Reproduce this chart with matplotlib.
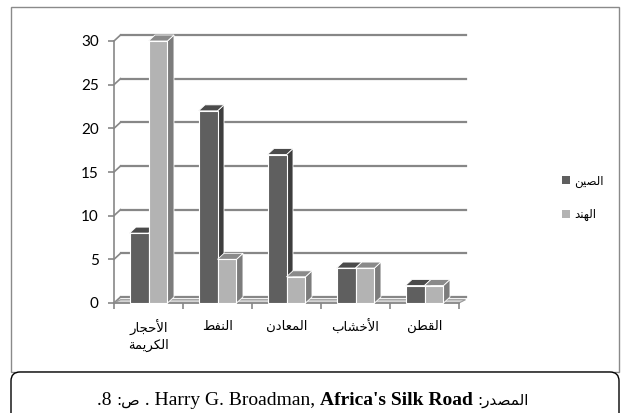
import unicodedata
import matplotlib
matplotlib.use('Agg')
import matplotlib.pyplot as plt
import numpy as np
from matplotlib.patches import Polygon, Rectangle, FancyBboxPatch, Patch
from matplotlib.transforms import IdentityTransform

# Data
categories = ["الأحجار\nالكريمة", "النفط", "المعادن", "الأخشاب", "القطن"]
china = [8, 22, 17, 4, 2]
india = [30, 5, 3, 4, 2]
series_names = ["الصين", "الهند"]
y_ticks = [0, 5, 10, 15, 20, 25, 30]


def _form(ch, form):
    try:
        return unicodedata.lookup(unicodedata.name(ch) + " " + form + " FORM")
    except (KeyError, ValueError):
        return None


def _is_arabic(tok):
    return tok is not None and "ARABIC" in tok[1]


def ar(text):
    # poor man's arabic shaping + right-to-left reversal (matplotlib has no bidi)
    out_lines = []
    for line in text.split("\n"):
        toks = []
        i = 0
        while i < len(line):
            ch = line[i]
            nxt = line[i + 1] if i + 1 < len(line) else ""
            if ch == "ل" and nxt in ("ا", "أ", "إ", "آ"):
                base = "ARABIC LIGATURE LAM WITH " + unicodedata.name(nxt).replace("ARABIC LETTER ", "")
                toks.append((ch + nxt, base, False))
                i += 2
                continue
            try:
                name = unicodedata.name(ch)
            except ValueError:
                name = ""
            if name.startswith("ARABIC LETTER"):
                dual = _form(ch, "INITIAL") is not None
                toks.append((ch, name, dual))
            else:
                toks.append((ch, "", False))
            i += 1
        shaped = []
        for k, (ch, name, dual) in enumerate(toks):
            if not name:
                shaped.append(ch)
                continue
            prev = toks[k - 1] if k > 0 else None
            nxt = toks[k + 1] if k + 1 < len(toks) else None
            jp = _is_arabic(prev) and prev[2]
            jn = dual and _is_arabic(nxt)
            form = "MEDIAL" if (jp and jn) else "FINAL" if jp else "INITIAL" if jn else "ISOLATED"
            try:
                g = unicodedata.lookup(name + " " + form + " FORM")
            except KeyError:
                g = ch
            shaped.append(g)
        out_lines.append("".join(shaped)[::-1])
    return "\n".join(out_lines)


W, H = 623, 413
fig = plt.figure(figsize=(W / 100, H / 100), dpi=100)

# front plot area in pixels: x 114..459, y 303 (0) .. 41 (30)
ax = fig.add_axes([114 / W, (H - 303) / H, 345 / W, 262 / H])
n = len(categories)
ax.set_xlim(0, n)
ax.set_ylim(0, 30)
for s in ax.spines.values():
    s.set_visible(False)

dx = 6.5 / 69.0      # depth offset, category units
dy = 6.0 / 8.733     # depth offset, value units
grid_c = '#878787'

# back wall gridlines + left wall connectors
for v in y_ticks:
    ax.plot([dx, n + dx], [v + dy, v + dy], color=grid_c, lw=1.6, clip_on=False, zorder=1)
    ax.plot([0, dx], [v, v + dy], color=grid_c, lw=1.2, clip_on=False, zorder=1)
ax.plot([0, 0], [0, 30], color=grid_c, lw=1.2, clip_on=False, zorder=1)

# floor plate
floor = Polygon([(0, 0), (n, 0), (n + dx, dy * 0.55), (dx, dy * 0.55)], closed=True,
                facecolor='#d4d4d4', edgecolor='#9a9a9a', lw=0.8, clip_on=False, zorder=1)
ax.add_patch(floor)
ax.plot([0, n], [0, 0], color=grid_c, lw=1.2, clip_on=False, zorder=1)

bar_w = 0.275
styles = [
    ('#5f5f5f', '#4b4b4b', '#3e3e3e'),   # china: front, top, side
    ('#b3b3b3', '#8a8a8a', '#7c7c7c'),   # india
]
for i in range(n):
    for j, vals in enumerate([china, india]):
        v = vals[i]
        x0 = i + 0.5 - bar_w + j * bar_w
        x1 = x0 + bar_w
        front, top, side = styles[j]
        ax.add_patch(Polygon([(x1, 0), (x1 + dx, dy), (x1 + dx, v + dy), (x1, v)],
                             closed=True, facecolor=side, edgecolor='white', lw=0.6,
                             clip_on=False, zorder=3))
        ax.add_patch(Polygon([(x0, v), (x1, v), (x1 + dx, v + dy), (x0 + dx, v + dy)],
                             closed=True, facecolor=top, edgecolor='white', lw=0.6,
                             clip_on=False, zorder=3))
        ax.bar(x0, v, width=bar_w, align='edge', color=front, edgecolor='white',
               linewidth=0.8, zorder=3, clip_on=False)

# ticks
ax.set_yticks(y_ticks)
ax.set_yticklabels([str(t) for t in y_ticks], family='Lato', fontsize=11)
ax.tick_params(axis='y', length=4, color=grid_c, width=1.2, pad=7)
ax.set_xticks(np.arange(n) + 0.5)
ax.set_xticklabels([ar(c) for c in categories], family='DejaVu Sans', fontsize=9.5,
                   linespacing=1.3)
ax.tick_params(axis='x', which='major', length=0, pad=12)
ax.set_xticks(np.arange(n + 1), minor=True)
ax.tick_params(axis='x', which='minor', length=4, color=grid_c, width=1.2)

# legend
handles = [Patch(facecolor='#5f5f5f', edgecolor='none'),
           Patch(facecolor='#b3b3b3', edgecolor='none')]
fig.legend(handles, [ar(s) for s in series_names], loc='center left',
           bbox_to_anchor=(562 / W, (H - 198) / H), frameon=False,
           borderaxespad=0, borderpad=0,
           handlelength=0.65, handleheight=0.65, handletextpad=0.35, labelspacing=1.75,
           prop={'family': 'DejaVu Sans', 'size': 8.5})

# chart frame and footer box (pixel coordinates)
ident = IdentityTransform()
fig.add_artist(Rectangle((10.5, H - 372), 608, 365, transform=ident, fill=False,
                         edgecolor='#8a8a8a', lw=1.0))
fig.add_artist(FancyBboxPatch((11, -30), 608, H - 372 + 30, transform=ident,
                              boxstyle="round,pad=0,rounding_size=9",
                              facecolor='white', edgecolor='black', lw=1.0))

# footer source line, built in visual order: (text, weight, family, size)
latin = 'Liberation Serif'
arab = 'DejaVu Sans'
pieces = [
    (".8 ", 'normal', latin, 14),
    (ar("ص:"), 'normal', arab, 11),
    (" . Harry G. Broadman, ", 'normal', latin, 14),
    ("Africa's Silk Road", 'bold', latin, 14),
    (" ", 'normal', latin, 14),
    (ar("المصدر:"), 'normal', arab, 11),
]
texts = [fig.text(0, 0, p, fontsize=sz, fontweight=w, va='baseline', ha='left', family=f)
         for p, w, f, sz in pieces]
renderer = fig.canvas.get_renderer()
widths = [t.get_window_extent(renderer).width for t in texts]
x = 313 - sum(widths) / 2
for t, w in zip(texts, widths):
    t.set_position((x / W, (H - 405) / H))
    x += w

fig.savefig('out.png', dpi=100)
